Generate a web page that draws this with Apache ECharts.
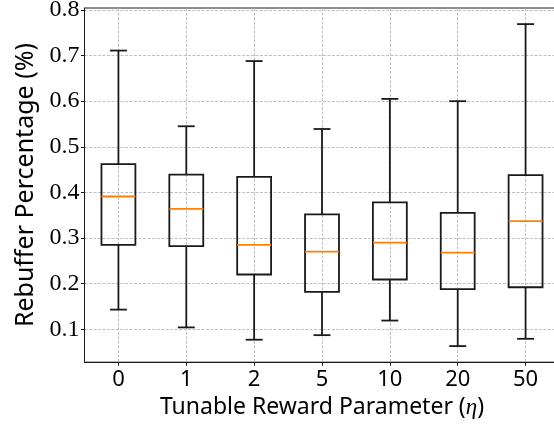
<!DOCTYPE html>
<html>
<head>
<meta charset="utf-8">
<script src="https://cdn.jsdelivr.net/npm/echarts@6/dist/echarts.min.js"></script>
<style>
  html, body { margin: 0; padding: 0; background: #fff; }
  #chart { width: 554px; height: 424px; }
</style>
</head>
<body>
<div id="chart"></div>
<script>
// Rebuffer percentage per tunable reward parameter (eta)
const categories = ['0', '1', '2', '5', '10', '20', '50'];
const whiskerLow  = [0.143, 0.104, 0.077, 0.087, 0.119, 0.063, 0.079];
const quartile1   = [0.285, 0.282, 0.220, 0.182, 0.209, 0.188, 0.192];
const medians     = [0.391, 0.364, 0.285, 0.270, 0.290, 0.268, 0.337];
const quartile3   = [0.462, 0.439, 0.434, 0.352, 0.378, 0.355, 0.438];
const whiskerHigh = [0.711, 0.545, 0.688, 0.539, 0.605, 0.600, 0.769];
const yTicks = [0.1, 0.2, 0.3, 0.4, 0.5, 0.6, 0.7, 0.8];

const boxData = categories.map((c, i) => [i, whiskerLow[i], quartile1[i], medians[i], quartile3[i], whiskerHigh[i]]);

const sansFont = '"Noto Sans", sans-serif';
const serifFont = '"Liberation Serif", serif';
const ink = '#1a1a1a';

function renderBox(params, api) {
  const idx = api.value(0);
  const band = api.size([1, 0])[0];
  const halfBox = band * 0.25;
  const halfCap = band * 0.125;
  const pLo = api.coord([idx, api.value(1)]);
  const pQ1 = api.coord([idx, api.value(2)]);
  const pMed = api.coord([idx, api.value(3)]);
  const pQ3 = api.coord([idx, api.value(4)]);
  const pHi = api.coord([idx, api.value(5)]);
  const cx = pLo[0];
  const lineStyle = { stroke: ink, lineWidth: 1.8, fill: null };
  return {
    type: 'group',
    children: [
      { type: 'line', shape: { x1: cx, y1: pQ1[1], x2: cx, y2: pLo[1] }, style: lineStyle },
      { type: 'line', shape: { x1: cx, y1: pQ3[1], x2: cx, y2: pHi[1] }, style: lineStyle },
      { type: 'line', shape: { x1: cx - halfCap, y1: pLo[1], x2: cx + halfCap, y2: pLo[1] }, style: lineStyle },
      { type: 'line', shape: { x1: cx - halfCap, y1: pHi[1], x2: cx + halfCap, y2: pHi[1] }, style: lineStyle },
      { type: 'rect', shape: { x: cx - halfBox, y: pQ3[1], width: halfBox * 2, height: pQ1[1] - pQ3[1] }, style: lineStyle },
      { type: 'line', shape: { x1: cx - halfBox, y1: pMed[1], x2: cx + halfBox, y2: pMed[1] }, style: { stroke: '#ff7f0e', lineWidth: 1.8 } }
    ]
  };
}

const chart = echarts.init(document.getElementById('chart'), null, { renderer: 'canvas' });
chart.setOption({
  animation: false,
  backgroundColor: '#fff',
  grid: {
    left: 84.5, top: 8, width: 475, height: 354.2,
    show: true, borderColor: ink, borderWidth: 1, backgroundColor: 'transparent',
    containLabel: false,
    outerBoundsMode: 'none'
  },
  xAxis: {
    type: 'category',
    data: categories,
    boundaryGap: true,
    name: 'Tunable Reward Parameter ({e|η})',
    nameLocation: 'middle',
    nameGap: 29,
    nameTextStyle: {
      fontFamily: sansFont, fontSize: 23, color: '#000', verticalAlign: 'top',
      rich: { e: { fontFamily: serifFont, fontStyle: 'italic', fontSize: 23, color: '#000' } }
    },
    axisLine: { show: true, lineStyle: { color: ink, width: 1 } },
    axisTick: { show: true, alignWithLabel: true, length: 3.5, inside: false, lineStyle: { color: ink, width: 1 } },
    axisLabel: { fontFamily: sansFont, fontSize: 22, color: '#000', margin: 7 },
    splitLine: { show: true, alignWithLabel: true, lineStyle: { color: '#b0b0b0', width: 0.8, type: [3, 1.5] } }
  },
  yAxis: {
    type: 'value',
    min: 0.0277,
    max: 0.8043,
    name: 'Rebuffer Percentage (%)',
    nameLocation: 'middle',
    nameRotate: 90,
    nameGap: 43,
    nameTextStyle: { fontFamily: sansFont, fontSize: 25, color: '#000' },
    axisLine: { show: true, lineStyle: { color: ink, width: 1 } },
    axisTick: { show: true, length: 3.5, customValues: yTicks, lineStyle: { color: ink, width: 1 } },
    axisLabel: {
      fontFamily: serifFont, fontSize: 24, color: '#000', margin: 5,
      customValues: yTicks,
      formatter: v => v.toFixed(1)
    },
    splitLine: { show: true, lineStyle: { color: '#b0b0b0', width: 0.8, type: [3, 1.5] } }
  },
  series: [{
    type: 'custom',
    renderItem: renderBox,
    data: boxData,
    encode: { x: 0, y: [1, 2, 3, 4, 5] },
    clip: false,
    z: 3
  }]
});
</script>
</body>
</html>
